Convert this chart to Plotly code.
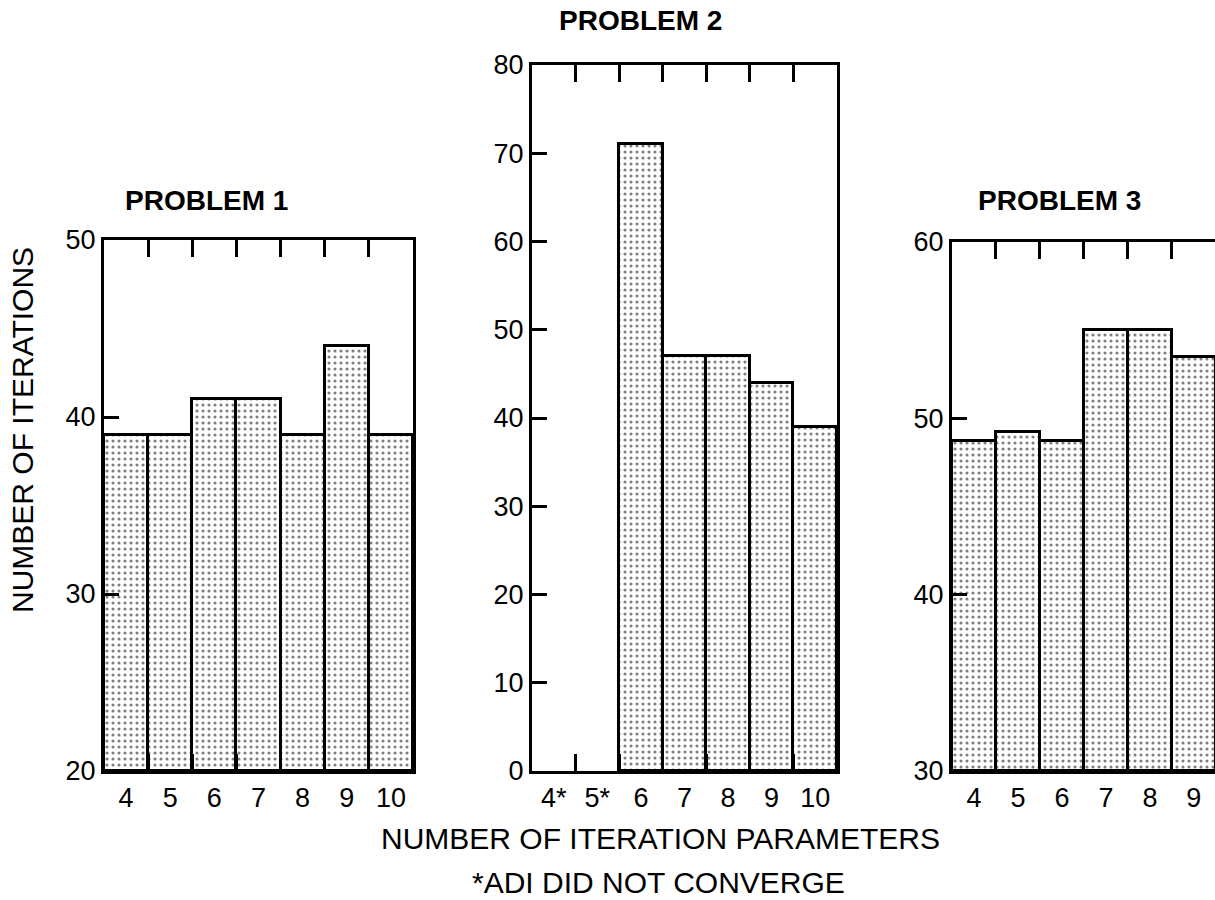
import plotly.graph_objects as go

# Number of iteration parameters (x categories)
params = [4, 5, 6, 7, 8, 9, 10]
labels_p1 = ["4", "5", "6", "7", "8", "9", "10"]
labels_p2 = ["4*", "5*", "6", "7", "8", "9", "10"]
labels_p3 = ["4", "5", "6", "7", "8", "9", "10"]

# Number of iterations for each problem (None = ADI did not converge)
iters_p1 = [39, 39, 41, 41, 39, 44, 39]
iters_p2 = [None, None, 71, 47, 47, 44, 39]
iters_p3 = [48.7, 49.2, 48.7, 55, 55, 53.5, 53]

yticks_p1 = [20, 30, 40, 50]
yticks_p2 = [0, 10, 20, 30, 40, 50, 60, 70, 80]
yticks_p3 = [30, 40, 50, 60]

W, H = 1215, 900
FONT = "Liberation Sans"


def px_x(a, b):
    return [a / W, b / W]


def px_y(top, bottom):
    return [1 - bottom / H, 1 - top / H]


panels = [
    dict(x=px_x(104, 413), y=px_y(240, 771), xr=[3.5, 10.5], yr=[20, 50],
         vals=iters_p1, labels=labels_p1, yt=yticks_p1, right=True),
    dict(x=px_x(532, 837), y=px_y(65, 771), xr=[3.5, 10.5], yr=[0, 80],
         vals=iters_p2, labels=labels_p2, yt=yticks_p2, right=True),
    dict(x=px_x(952, 1215), y=px_y(242, 771), xr=[3.5, 9.48], yr=[30, 60],
         vals=iters_p3, labels=labels_p3, yt=yticks_p3, right=False),
]

fig = go.Figure()
layout = dict(
    width=W, height=H,
    margin=dict(l=0, r=0, t=0, b=0, pad=0, autoexpand=False),
    paper_bgcolor="white", plot_bgcolor="white",
    showlegend=False, bargap=0,
    font=dict(family=FONT, color="black", size=27),
)

# tick marks between neighbouring bars
boundaries = [4.5, 5.5, 6.5, 7.5, 8.5, 9.5]

for i, p in enumerate(panels, start=1):
    xa = "x" if i == 1 else f"x{i}"
    ya = "y" if i == 1 else f"y{i}"
    floor = p["yr"][0]
    fig.add_trace(go.Bar(
        x=params,
        y=[None if v is None else v - floor for v in p["vals"]],
        base=floor, xaxis=xa, yaxis=ya, width=1,
        marker=dict(
            color="white",
            line=dict(color="black", width=3),
            pattern=dict(shape=".", size=6, solidity=0.22,
                         fgcolor="black", bgcolor="white"),
        ),
    ))

    suffix = "" if i == 1 else str(i)
    layout[f"xaxis{suffix}"] = dict(
        domain=p["x"], range=p["xr"], anchor=ya, automargin=False,
        tickmode="array", tickvals=params, ticktext=p["labels"], ticks="",
        minor=dict(tickmode="array", tickvals=boundaries, ticks="inside",
                   ticklen=17, tickwidth=2.5, tickcolor="black",
                   showgrid=False),
        showline=True, linecolor="black", linewidth=3, mirror="ticks",
        showgrid=False, zeroline=False, fixedrange=True,
        tickfont=dict(size=27), ticklabelstandoff=1,
    )
    layout[f"yaxis{suffix}"] = dict(
        domain=p["y"], range=p["yr"], anchor=xa, automargin=False,
        tickmode="array", tickvals=p["yt"], ticks="inside", ticklen=15,
        tickwidth=2.5, tickcolor="black",
        showline=True, linecolor="black", linewidth=3, mirror=p["right"],
        showgrid=False, zeroline=False, fixedrange=True,
        tickfont=dict(size=27), ticklabelstandoff=0,
    )

fig.update_layout(**layout)

annotations = [
    dict(text="<b>PROBLEM 1</b>", x=206 / W, y=1 - 200 / H, size=28),
    dict(text="<b>PROBLEM 2</b>", x=640 / W, y=1 - 21 / H, size=28),
    dict(text="<b>PROBLEM 3</b>", x=1059 / W, y=1 - 200 / H, size=28),
    dict(text="NUMBER OF ITERATION PARAMETERS", x=660 / W, y=1 - 838 / H, size=30),
    dict(text="*ADI DID NOT CONVERGE", x=658 / W, y=1 - 882 / H, size=30),
]
for a in annotations:
    fig.add_annotation(
        text=a["text"], x=a["x"], y=a["y"], xref="paper", yref="paper",
        xanchor="center", yanchor="middle", showarrow=False,
        font=dict(family=FONT, size=a["size"], color="black"),
    )
fig.add_annotation(
    text="NUMBER OF ITERATIONS", x=22 / W, y=1 - 430 / H,
    xref="paper", yref="paper", xanchor="center", yanchor="middle",
    textangle=-90, showarrow=False,
    font=dict(family=FONT, size=30, color="black"),
)

fig.write_html("out.html")
